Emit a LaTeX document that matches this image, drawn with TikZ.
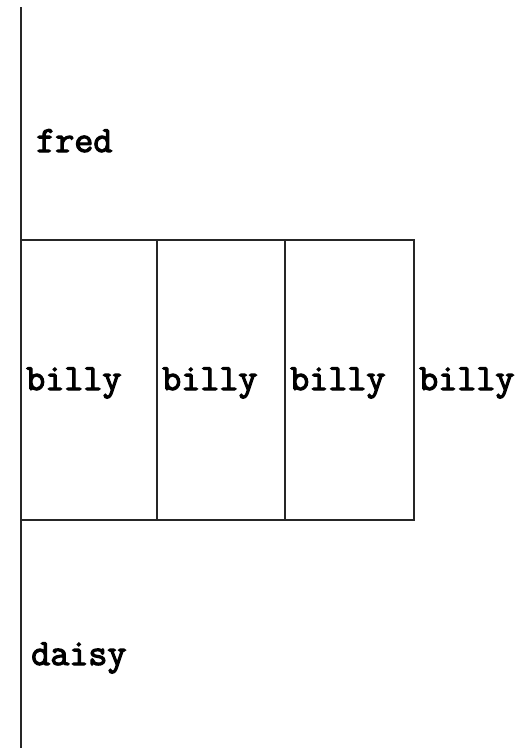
\documentclass[tikz,border=0pt]{standalone}
\usepackage{fontspec}
\newfontfamily\lblfont[FakeBold=3]{Latin Modern Mono}
\begin{document}
\begin{tikzpicture}[x=1pt,y=-1pt,
  lbl/.style={font=\lblfont\bfseries\fontsize{37}{37}\selectfont,anchor=base west,inner sep=0pt},
  ln/.style={line width=1.1pt,draw=black!85}]
\useasboundingbox (0,0) rectangle (519,748);
\coordinate (top) at (21,7);
\coordinate (bot) at (21,748);
\draw[ln] (top) -- (bot);
\coordinate (r1) at (21,240);
\coordinate (r2) at (414,520);
\draw[ln] (r1) rectangle (r2);
\coordinate (d1t) at (157,240); \coordinate (d1b) at (157,520);
\coordinate (d2t) at (285,240); \coordinate (d2b) at (285,520);
\draw[ln] (d1t) -- (d1b);
\draw[ln] (d2t) -- (d2b);
\node[lbl] (fred) at (36,152) {fred};
\node[lbl] (b1) at (26,390) {billy};
\node[lbl] (b2) at (162,390) {billy};
\node[lbl] (b3) at (290,390) {billy};
\node[lbl] (b4) at (419,390) {billy};
\node[lbl] (daisy) at (31,665) {daisy};
\end{tikzpicture}
\end{document}
